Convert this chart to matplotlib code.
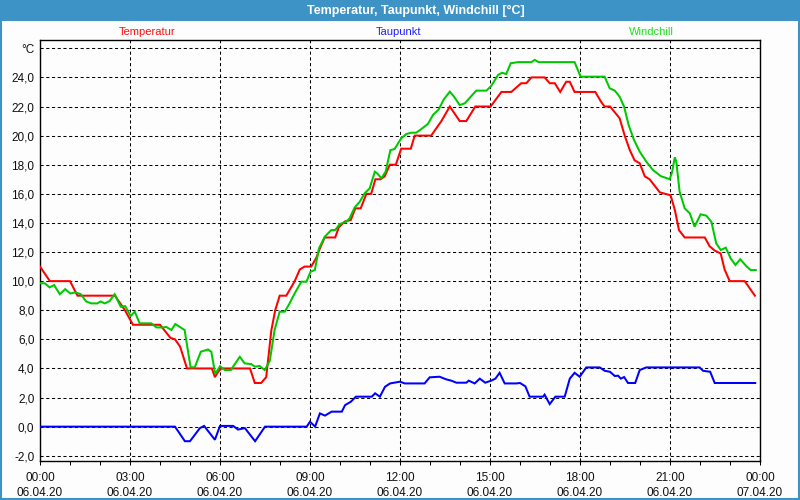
import matplotlib
matplotlib.use("Agg")
import matplotlib.pyplot as plt
from matplotlib.patches import Rectangle
from matplotlib.ticker import MultipleLocator, FixedLocator

plt.rcParams['font.family'] = ['Liberation Sans', 'DejaVu Sans']

# ---- data (hours since 06.04.20 00:00, values in °C) ----
temp_t = [0.0, 0.33, 1.0, 1.25, 2.5, 2.83, 3.1, 4.0, 4.35, 4.5, 4.67, 4.9, 5.73, 5.83, 5.95, 6.05,
          7.0, 7.16, 7.37, 7.54, 7.71, 7.84, 7.99, 8.21, 8.49, 8.66, 8.82, 9.04, 9.21, 9.32, 9.49,
          9.84, 9.96, 10.16, 10.36, 10.51, 10.69, 10.88, 11.04, 11.18, 11.35, 11.49, 11.66, 11.86,
          12.04, 12.36, 12.49, 13.04, 13.38, 13.66, 13.99, 14.21, 14.51, 15.02, 15.38, 15.71,
          16.04, 16.21, 16.38, 16.82, 16.99, 17.16, 17.34, 17.54, 17.66, 17.82, 18.51, 18.71,
          18.82, 19.0, 19.16, 19.32, 19.49, 19.66, 19.82, 19.99, 20.16, 20.32, 20.66, 20.84,
          21.02, 21.16, 21.3, 21.49, 22.16, 22.32, 22.49, 22.69, 22.82, 22.99, 23.49, 23.83]
temp_v = [11.0, 10.0, 10.0, 9.0, 9.0, 8.0, 7.0, 7.0, 6.1, 6.0, 5.5, 4.0, 4.0, 3.4, 3.8, 4.0,
          4.0, 3.0, 3.0, 3.4, 6.6, 8.0, 9.0, 9.0, 10.0, 10.8, 11.0, 11.0, 11.6, 12.2, 13.0,
          13.0, 13.7, 14.1, 14.2, 15.0, 15.0, 16.0, 16.0, 17.0, 17.0, 17.2, 18.0, 18.0,
          19.1, 19.1, 20.0, 20.0, 21.0, 22.0, 21.0, 21.0, 22.0, 22.0, 23.0, 23.0,
          23.6, 23.6, 24.0, 24.0, 23.6, 23.6, 23.0, 23.7, 23.7, 23.0, 23.0, 22.3,
          22.0, 22.0, 21.6, 21.2, 20.0, 19.0, 18.3, 18.1, 17.2, 17.0, 16.1, 16.0,
          15.9, 14.9, 13.5, 13.0, 13.0, 12.4, 12.1, 11.9, 10.8, 10.0, 10.0, 9.0]

wind_t = [0.0, 0.16, 0.32, 0.47, 0.66, 0.84, 1.01, 1.18, 1.36, 1.54, 1.71, 1.91, 2.02, 2.16, 2.32,
          2.49, 2.69, 2.84, 3.02, 3.16, 3.32, 3.71, 3.88, 4.1, 4.21, 4.38, 4.51, 4.82, 5.02, 5.16,
          5.36, 5.6, 5.71, 5.84, 6.0, 6.16, 6.36, 6.66, 6.82, 7.04, 7.16, 7.32, 7.49, 7.66, 7.82,
          7.99, 8.16, 8.32, 8.49, 8.71, 8.88, 9.02, 9.16, 9.3, 9.49, 9.71, 9.84, 9.99, 10.21,
          10.32, 10.49, 10.66, 10.82, 10.99, 11.16, 11.24, 11.38, 11.52, 11.68, 11.82, 12.04,
          12.21, 12.38, 12.54, 12.71, 12.93, 13.1, 13.29, 13.46, 13.66, 13.8, 13.99, 14.16,
          14.54, 14.88, 15.04, 15.27, 15.4, 15.54, 15.69, 15.93, 16.38, 16.49, 16.62, 17.82,
          18.02, 18.82, 18.99, 19.16, 19.32, 19.47, 19.62, 19.8, 19.99, 20.21, 20.43, 20.69,
          20.99, 21.07, 21.16, 21.21, 21.32, 21.49, 21.66, 21.82, 22.02, 22.21, 22.38, 22.54,
          22.69, 22.86, 23.02, 23.18, 23.34, 23.54, 23.69, 23.86]
wind_v = [9.85, 9.85, 9.57, 9.73, 9.1, 9.45, 9.15, 9.23, 9.1, 8.6, 8.47, 8.47, 8.6, 8.47, 8.63,
          9.1, 8.24, 8.28, 7.6, 7.9, 7.1, 7.1, 6.82, 6.82, 6.85, 6.64, 7.05, 6.64, 4.08, 4.08,
          5.15, 5.3, 5.15, 3.62, 4.15, 3.89, 3.89, 4.8, 4.35, 4.3, 4.12, 4.17, 3.89, 4.53, 6.64,
          7.9, 7.9, 8.47, 9.16, 9.96, 9.96, 10.65, 10.76, 12.25, 13.05, 13.51, 13.51, 13.92, 14.08,
          14.32, 15.07, 15.46, 16.03, 16.38, 17.52, 17.4, 17.07, 17.52, 19.0, 19.08, 19.81,
          20.11, 20.2, 20.2, 20.45, 20.8, 21.42, 21.8, 22.49, 23.02, 22.68, 22.1, 22.22,
          23.09, 23.09, 23.41, 24.17, 24.32, 24.23, 24.97, 25.05, 25.05, 25.2, 25.05, 25.05,
          24.05, 24.05, 23.25, 23.09, 22.68, 21.99, 20.73, 19.7, 18.9, 18.21, 17.64, 17.22,
          17.0, 17.5, 18.51, 18.21, 16.15, 15.0, 14.66, 13.74, 14.59, 14.5, 14.08, 12.6,
          12.14, 12.3, 11.57, 11.11, 11.5, 11.04, 10.76, 10.76]

dew_t = [0.0, 4.5, 4.83, 5.0, 5.33, 5.47, 5.83, 6.0, 6.44, 6.6, 6.83, 7.17, 7.5, 8.89, 9.0, 9.17,
         9.33, 9.5, 9.72, 10.06, 10.17, 10.36, 10.53, 11.06, 11.17, 11.33, 11.5, 11.67, 12.0,
         12.16, 12.82, 12.99, 13.32, 13.54, 13.71, 13.88, 14.21, 14.29, 14.49, 14.66, 14.84,
         15.04, 15.18, 15.32, 15.49, 15.88, 16.0, 16.18, 16.32, 16.77, 16.82, 16.99, 17.18,
         17.49, 17.66, 17.82, 17.99, 18.21, 18.66, 18.82, 19.0, 19.16, 19.27, 19.36, 19.47,
         19.6, 19.84, 19.99, 20.21, 21.99, 22.1, 22.34, 22.49, 23.84]
dew_v = [0.0, 0.0, -1.0, -1.0, -0.1, 0.05, -0.9, 0.05, 0.05, -0.2, -0.1, -1.0, 0.0, 0.0, 0.34, 0.0,
         0.91, 0.76, 1.03, 1.03, 1.48, 1.71, 2.06, 2.06, 2.29, 2.06, 2.74, 2.97, 3.09,
         2.97, 2.97, 3.39, 3.43, 3.25, 3.16, 3.02, 3.02, 3.16, 2.97, 3.3, 3.02,
         3.16, 3.3, 3.7, 2.97, 2.97, 3.0, 2.77, 2.06, 2.06, 2.2, 1.55, 2.06,
         2.06, 3.3, 3.7, 3.43, 4.07, 4.07, 3.84, 3.77, 3.48, 3.5, 3.3, 3.41,
         3.0, 3.0, 3.89, 4.07, 4.07, 3.84, 3.77, 3.0, 3.0]

series_names = ["Temperatur", "Taupunkt", "Windchill"]
x_tick_hours = [0, 3, 6, 9, 12, 15, 18, 21, 24]
x_tick_labels = ["00:00\n06.04.20", "03:00\n06.04.20", "06:00\n06.04.20", "09:00\n06.04.20",
                 "12:00\n06.04.20", "15:00\n06.04.20", "18:00\n06.04.20", "21:00\n06.04.20",
                 "00:00\n07.04.20"]
y_ticks = [-2, 0, 2, 4, 6, 8, 10, 12, 14, 16, 18, 20, 22, 24, 26]
y_tick_labels = ["-2,0", "0,0", "2,0", "4,0", "6,0", "8,0", "10,0", "12,0", "14,0", "16,0",
                 "18,0", "20,0", "22,0", "24,0", "°C"]
title = "Temperatur, Taupunkt, Windchill [°C]"

# ---- figure ----
W, H = 800, 500
fig = plt.figure(figsize=(8, 5), dpi=100)
fig.patch.set_facecolor("#fcfdfc")
frame_blue = "#3d93c5"

ax = fig.add_axes([40 / W, 1 - 460.7 / H, 720 / W, 420.7 / H])
ax.set_facecolor("#fcfdfc")

red = "#ff0000"
blue = "#0000ff"
green = "#00c800"
lw = 1.45
ax.plot(temp_t, temp_v, color=red, lw=lw, zorder=3, solid_joinstyle="miter")
ax.plot(dew_t, dew_v, color=blue, lw=lw, zorder=3, solid_joinstyle="miter")
ax.plot(wind_t, wind_v, color=green, lw=lw, zorder=4, solid_joinstyle="miter")

ax.set_xlim(0, 24)
ax.set_ylim(-2.34, 26.57)

ax.xaxis.set_major_locator(FixedLocator(x_tick_hours))
ax.set_xticklabels(x_tick_labels, fontsize=8.5, linespacing=1.4, color="#101010")
ax.xaxis.set_minor_locator(MultipleLocator(1))
ax.tick_params(axis="x", which="major", direction="out", length=3, width=0.75, pad=5)
ax.tick_params(axis="x", which="minor", direction="out", length=3, width=0.75)

ax.set_yticks(y_ticks)
ax.set_yticklabels(y_tick_labels, fontsize=8.5, color="#101010")
ax.tick_params(axis="y", which="major", length=0, pad=4)

ax.grid(True, which="major", color="black", linestyle=(0, (3, 2.5)), linewidth=0.75)
ax.set_axisbelow(True)
for s in ax.spines.values():
    s.set_color("black")
    s.set_linewidth(1.0)

# series labels above plot
label_colors = ["#ff1010", "#2020ff", "#20dd20"]
label_x = [147, 399, 651]
for name, c, lx in zip(series_names, label_colors, label_x):
    fig.text(lx / W, 1 - 32 / H, name, color=c, fontsize=8, ha="center", va="center")

# title bar and window frame
fig.patches.append(Rectangle((0, 1 - 20.5 / H), 1, 20.5 / H, transform=fig.transFigure,
                             facecolor=frame_blue, edgecolor="none", zorder=0))
fig.patches.append(Rectangle((0.5 / W, 1 / H), 1 - 1.5 / W, 1 - 2 / H, transform=fig.transFigure,
                             facecolor="none", edgecolor=frame_blue, linewidth=1.5, zorder=5))
fig.text(416 / W, 1 - 10.5 / H, title, color="white", fontsize=9, fontweight="bold",
         ha="center", va="center")

fig.savefig("out.png", dpi=100, facecolor=fig.get_facecolor())
